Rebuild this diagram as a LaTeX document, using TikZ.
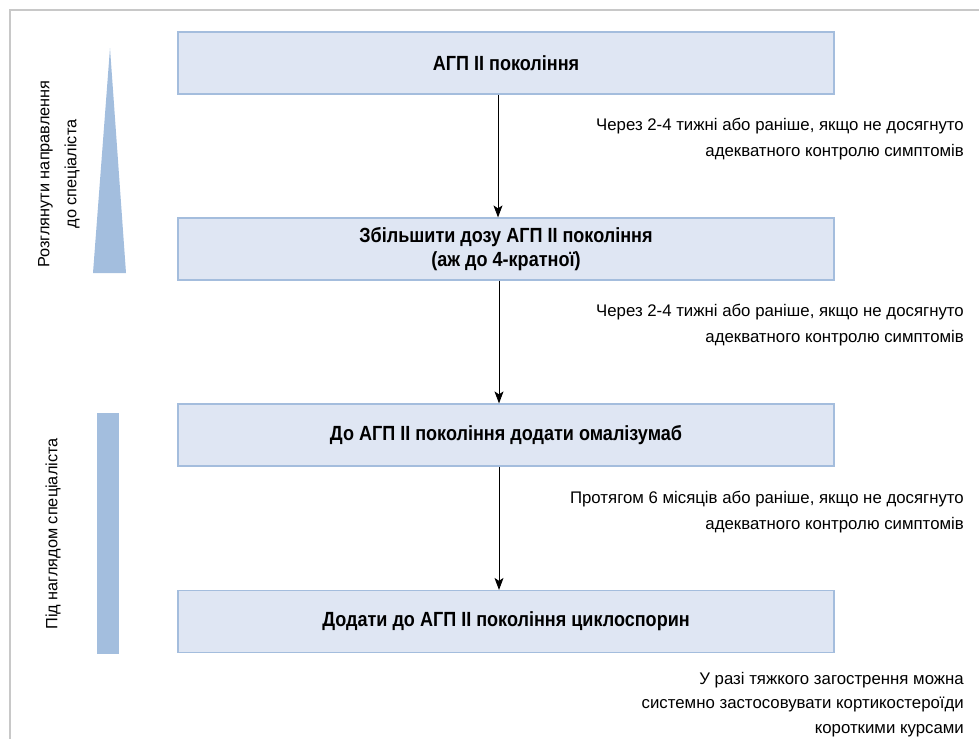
\documentclass[tikz,border=0pt]{standalone}
\usepackage{fontspec}
\setmainfont{Liberation Sans}
\newfontfamily\boxfont[FakeStretch=0.88]{Liberation Sans}
\usetikzlibrary{arrows.meta}
\definecolor{boxfill}{HTML}{DFE6F3}
\definecolor{boxline}{HTML}{A4BDDD}
\definecolor{barblue}{HTML}{A3BEDE}
\definecolor{framegray}{HTML}{C8C8C8}

\begin{document}
\begin{tikzpicture}[x=1pt,y=-1pt,
	stepbox/.style={draw=boxline, fill=boxfill, line width=1.2pt, minimum width=656pt, minimum height=62pt, inner sep=0pt, align=center, font=\boxfont\bfseries\fontsize{20.5}{24}\selectfont},
	note/.style={anchor=north east, align=right, inner sep=0pt, font=\fontsize{16.8}{26}\selectfont},
	side/.style={rotate=90, align=center, font=\fontsize{16.3}{27}\selectfont},
	flow/.style={-{Stealth[length=12pt,width=9pt,inset=3pt]}, line width=0.9pt}]
		%%%%% START %%%%%
		\useasboundingbox (0,0) rectangle (979,739);
		
		\draw[framegray, line width=1.5pt] (979,10) -- (10,10) -- (10,739);
		
		% side marks
		\fill[barblue] (110,48) -- (126,273) -- (93,273) -- cycle;
		\fill[barblue] (97,413) rectangle (119,654);
		\node[side] (refer) at (59,174) {Розглянути направлення\\до спеціаліста};
		\node[side] (watch) at (53,534) {Під наглядом спеціаліста};
		
		% steps
		\node[stepbox] (agp) at (506,63) {АГП II покоління};
		\node[stepbox] (dose) at (506,249) {Збільшити дозу АГП II покоління\\(аж до 4-кратної)};
		\node[stepbox] (omal) at (506,435) {До АГП II покоління додати омалізумаб};
		\node[stepbox] (cyclo) at (506,621.5) {Додати до АГП II покоління циклоспорин};
		
		\draw[flow] ([xshift=-8pt]agp.south) -- ([xshift=-8pt]dose.north);
		\draw[flow] ([xshift=-7pt]dose.south) -- ([xshift=-7pt]omal.north);
		\draw[flow] ([xshift=-7pt]omal.south) -- ([xshift=-7pt]cyclo.north);
		
		% notes
		\node[note] (wait1) at (964,118) {Через 2-4 тижні або раніше, якщо не досягнуто\\адекватного контролю симптомів};
		\node[note] (wait2) at (964,304) {Через 2-4 тижні або раніше, якщо не досягнуто\\адекватного контролю симптомів};
		\node[note] (wait3) at (964,491) {Протягом 6 місяців або раніше, якщо не досягнуто\\адекватного контролю симптомів};
		\node[note, font=\fontsize{16.8}{24.5}\selectfont] (flare) at (964,672) {У разі тяжкого загострення можна\\системно застосовувати кортикостероїди\\короткими курсами};
		%%%%% END %%%%%
\end{tikzpicture}
\end{document}
